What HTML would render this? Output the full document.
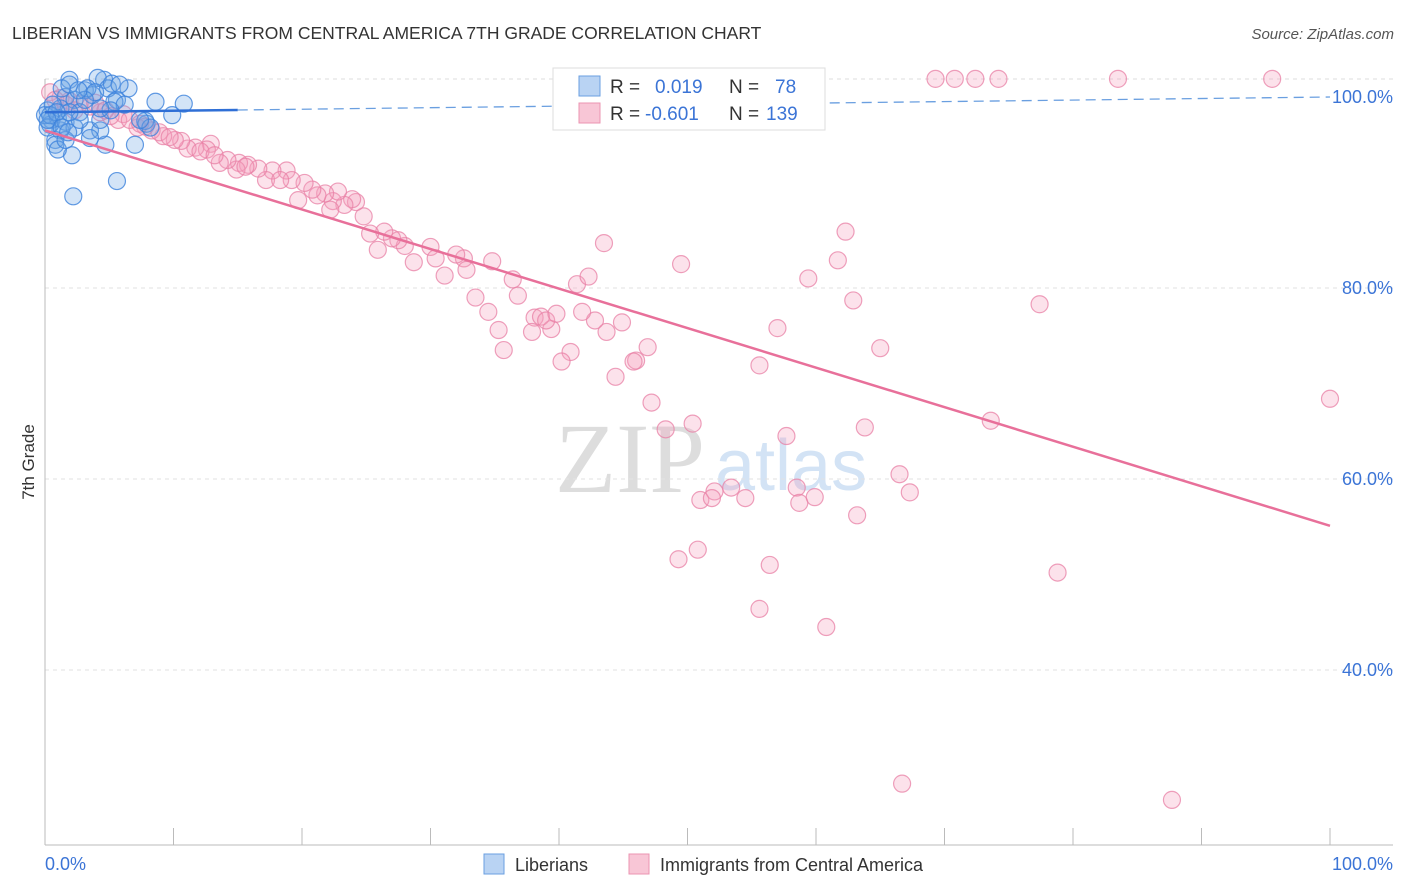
<!DOCTYPE html>
<html><head><meta charset="utf-8"><style>
body{margin:0;background:#fff;font-family:"Liberation Sans",sans-serif;}
svg{display:block}
</style></head><body>
<svg id="chart" width="1406" height="892">
<text x="12" y="39" font-size="17.5" fill="#333">LIBERIAN VS IMMIGRANTS FROM CENTRAL AMERICA 7TH GRADE CORRELATION CHART</text>
<text x="1394" y="39" font-size="15" fill="#555" font-style="italic" text-anchor="end">Source: ZipAtlas.com</text>
<text x="0" y="0" transform="translate(34,462) rotate(-90)" font-size="17" fill="#333" text-anchor="middle">7th Grade</text>
<g>
<text x="555" y="492" font-family="Liberation Serif,serif" font-size="100" fill="#ddd">ZIP</text>
<text x="715" y="490" font-size="72" fill="#d3e3f5">atlas</text>
</g>
<g id="grid"></g><g id="marks"></g><g id="lines"></g>
<g>
<rect x="553" y="68" width="272" height="62" fill="#fff" stroke="#ddd"/>
<rect x="579" y="76" width="21" height="20" fill="#b9d3f3" stroke="#6a9fe0"/>
<rect x="579" y="103" width="21" height="20" fill="#f8c6d6" stroke="#eb94b2"/>
<text x="610" y="93" font-size="19" fill="#333">R = </text><text x="655" y="93" font-size="19" fill="#3b74d6">0.019</text>
<text x="729" y="93" font-size="19" fill="#333">N = </text><text x="775" y="93" font-size="19" fill="#3b74d6">78</text>
<text x="610" y="120" font-size="19" fill="#333">R = </text><text x="645" y="120" font-size="19" fill="#3b74d6">-0.601</text>
<text x="729" y="120" font-size="19" fill="#333">N = </text><text x="766" y="120" font-size="19" fill="#3b74d6">139</text>
</g>
<g>
<rect x="484" y="854" width="20" height="20" fill="#b9d3f3" stroke="#6a9fe0"/>
<text x="515" y="871" font-size="18" fill="#333">Liberians</text>
<rect x="629" y="854" width="20" height="20" fill="#f8c6d6" stroke="#eb94b2"/>
<text x="660" y="871" font-size="18" fill="#333">Immigrants from Central America</text>
</g>
</svg>
<script>
const yTicks=[100,80,60,40];
const yTickLabels=["100.0%","80.0%","60.0%","40.0%"];
const xTickLabels=["0.0%","100.0%"];
const blueX=[2.2,5.6,2.1,4.7,7.0,10.8,8.6,9.9,7.9,6.5,4.6,4.1,1.9,5.6,3.1,3.5,1.2,0.5,0.2,0.8,4.3,1.6,2.3,2.7,3.7,4.9,5.2,5.8,3.3,3.9,1.2,0.4,1.0,1.6,2.3,2.7,3.1,0,0.2,0.6,1.3,1.9,2.6,5.4,6.2,7.8,8.2,7.4,4.3,5.1,0.8,1.0,1.9,1.6,3.5,4.3,0.4,0.9,0.2,1.3,1.8];
const blueY=[89.6,91.2,93.9,95.0,95.0,99.3,99.5,98.1,97.2,100.9,101.8,102.0,101.8,99.7,100.7,96.5,96.5,97.6,98.6,95.5,96.5,100,99.7,98.4,100.2,100.9,101.4,101.3,100.9,100.5,98.8,97.1,97.8,97.4,96.8,97.6,99.7,98.1,96.8,99.2,100.9,101.3,100.7,99.5,99.2,97.5,96.8,97.6,97.6,98.6,95.0,94.5,98.4,95.5,95.7,98.8,98.1,98.4,97.6,96.8,96.3];
const pinkX=[47.7,54.2,69.3,70.8,72.4,74.2,83.5,95.5,43.5,49.5,62.3,61.7,59.4,62.9,77.4,57.0,65.0,55.6,100,73.6,63.8,50.4,48.3,47.2,46.0,46.9,45.8,44.4,44.9,43.7,42.8,41.8,41.4,42.3,39.4,40.9,40.2,38.1,38.6,39.0,39.8,37.9,35.7,35.3,34.5,33.5,36.8,36.4,34.8,32.6,31.1,32.8,32.0,30.0,30.4,28.7,28.0,27.5,27.0,26.4,25.9,25.3,24.8,24.2,23.9,23.3,22.4,22.2,22.8,21.8,21.2,20.8,19.7,20.2,18.8,19.2,17.7,17.2,16.6,15.8,15.1,14.9,14.2,13.6,12.9,12.6,11.7,11.1,10.6,10.1,9.2,8.3,7.8,7.2,6.1,5.7,5.1,4.3,3.5,2.7,1.9,1.2,0.4,0.8,1.6,2.3,3.9,4.7,6.6,7.4,8.9,9.7,12.1,13.2,15.6,18.3,66.5,67.3,63.2,60.8,55.6,56.4,52.1,51.0,51.9,53.4,54.5,57.7,58.5,58.7,59.9,50.8,49.3,66.7,87.7,78.8];
const pinkY=[101.9,101.9,101.9,101.9,101.9,101.9,101.9,101.9,84.7,82.5,85.9,82.9,81.0,78.7,78.3,75.8,73.7,71.9,68.4,66.1,65.4,65.8,65.2,68.0,72.4,73.8,72.3,70.7,76.4,75.4,76.6,77.5,80.4,81.2,75.7,73.3,72.3,76.9,77.0,76.6,77.3,75.4,73.5,75.6,77.5,79.0,79.2,80.9,82.8,83.1,81.3,81.9,83.5,84.3,83.1,82.7,84.4,85.0,85.2,85.9,84.0,85.7,87.5,89.0,89.3,88.7,89.1,88.2,90.1,89.9,89.7,90.3,89.2,91.0,92.3,91.3,92.3,91.3,92.5,92.9,93.1,92.4,93.4,93.1,95.1,94.5,94.7,94.6,95.4,95.5,95.9,96.5,96.9,96.8,98.2,97.6,98.0,98.4,99.0,99.3,99.6,99.9,100.5,99.7,99.2,98.6,99.4,98.6,97.6,97.2,96.3,95.8,94.3,93.9,92.7,91.3,60.5,58.6,56.2,44.5,46.4,51.0,58.7,57.8,58.0,59.1,58.0,64.5,59.1,57.5,58.1,52.6,51.6,28.1,26.4,50.2];
const blueTrend=[98.4,100.0];
const pinkTrend=[96.5,55.1];
const NS="http://www.w3.org/2000/svg";
const sx=v=>45+v*12.85, sy=v=>97+(100-v)*9.55;
function mk(tag,attrs,parent){const e=document.createElementNS(NS,tag);for(const k in attrs)e.setAttribute(k,attrs[k]);parent.appendChild(e);return e;}
const grid=document.getElementById('grid'),marks=document.getElementById('marks'),lines=document.getElementById('lines');
let g=mk('line',{x1:45,x2:1393,y1:79,y2:79,stroke:'#ddd','stroke-dasharray':'4,4'},grid);


yTicks.forEach((t,i)=>{
 if(t<100){const l=mk('line',{x1:45,x2:1393,y1:sy(t),y2:sy(t),stroke:'#e2e2e2','stroke-dasharray':'4,4'},grid);
 
 }
 const tx=mk('text',{x:1393,y:sy(t)+6,'font-size':18,fill:'#3b74d6','text-anchor':'end'},grid);tx.textContent=yTickLabels[i];
 
 
});
const ax=mk('line',{x1:45,x2:1393,y1:845,y2:845,stroke:'#bbb'},grid);


const ay=mk('line',{x1:45,x2:45,y1:79,y2:845,stroke:'#bbb'},grid);


for(let i=0;i<=10;i++){const t=mk('line',{x1:sx(i*10),x2:sx(i*10),y1:828,y2:845,stroke:'#bbb'},grid);
 
 }
const xl0=mk('text',{x:45,y:870,'font-size':18,fill:'#3b74d6'},grid);xl0.textContent=xTickLabels[0];


const xl1=mk('text',{x:1393,y:870,'font-size':18,fill:'#3b74d6','text-anchor':'end'},grid);xl1.textContent=xTickLabels[1];


pinkX.forEach((x,i)=>{const c=mk('circle',{cx:sx(x),cy:sy(pinkY[i]),r:8.5,fill:'rgba(244,160,188,0.3)',stroke:'rgba(232,128,165,0.75)','stroke-width':1.2},marks);
 
 });
blueX.forEach((x,i)=>{const c=mk('circle',{cx:sx(x),cy:sy(blueY[i]),r:8.5,fill:'rgba(110,165,230,0.3)',stroke:'rgba(60,130,220,0.8)','stroke-width':1.2},marks);
 
 });
const bAt=x=>blueTrend[0]+(blueTrend[1]-blueTrend[0])*x/100;
const bl=mk('line',{x1:sx(0),y1:sy(bAt(0)),x2:sx(15),y2:sy(bAt(15)),stroke:'#2f6fd6','stroke-width':2.5},lines);


const bd=mk('line',{x1:sx(15),y1:sy(bAt(15)),x2:sx(100),y2:sy(bAt(100)),stroke:'#6a9fe0','stroke-width':1.3,'stroke-dasharray':'10,6'},lines);


const pl=mk('line',{x1:sx(0),y1:sy(pinkTrend[0]),x2:sx(100),y2:sy(pinkTrend[1]),stroke:'#e8709a','stroke-width':2.5},lines);


</script>
</body></html>
